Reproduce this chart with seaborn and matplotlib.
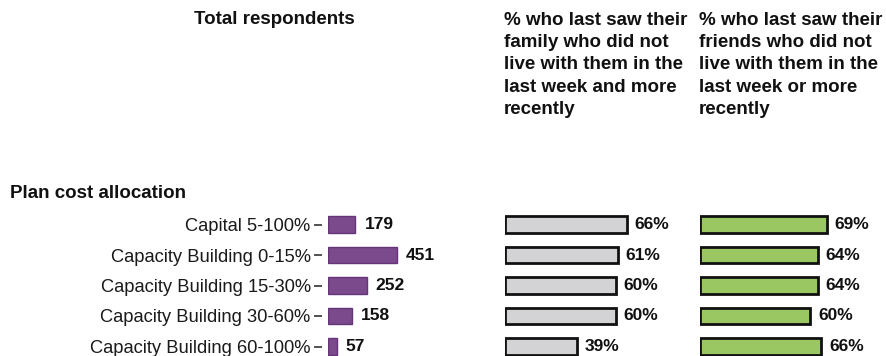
import pandas as pd
import matplotlib
matplotlib.use("Agg")
import matplotlib.pyplot as plt
import seaborn as sns

# Data
categories = [
    "Capital 5-100%",
    "Capacity Building 0-15%",
    "Capacity Building 15-30%",
    "Capacity Building 30-60%",
    "Capacity Building 60-100%",
]
respondents = [179, 451, 252, 158, 57]
family_pct = [66, 61, 60, 60, 39]
friends_pct = [69, 64, 64, 60, 66]

group_title = "Plan cost allocation"
title_total = "Total respondents"
title_family = "% who last saw their\nfamily who did not\nlive with them in the\nlast week and more\nrecently"
title_friends = "% who last saw their\nfriends who did not\nlive with them in the\nlast week or more\nrecently"

df = pd.DataFrame({
    "Category": categories,
    "Respondents": respondents,
    "Family": family_pct,
    "Friends": friends_pct,
})

# Style
sns.set_style("white")
plt.rcParams["font.family"] = ["Liberation Sans", "DejaVu Sans"]
text_color = "#111111"

W, H = 886, 356
fig = plt.figure(figsize=(W / 100, H / 100), dpi=100)


def px_axes(left, width, top=209.25, height=152.5):
    return fig.add_axes([left / W, (H - top - height) / H, width / W, height / H])


ax1 = px_axes(328, 76.5)
ax2 = px_axes(505, 185)
ax3 = px_axes(700, 184)

# Total respondents
sns.barplot(data=df, x="Respondents", y="Category", ax=ax1, orient="h",
            color="#7B4A8C", edgecolor="#66347A", linewidth=1.0,
            saturation=1, width=0.55)
ax1.set_xlim(0, 500)
ax1.bar_label(ax1.containers[0], fmt="{:.0f}", padding=6.5,
              fontsize=12.5, fontweight="bold", color=text_color)

# Family
sns.barplot(data=df, x="Family", y="Category", ax=ax2, orient="h",
            color="#D3D3D5", edgecolor="#111111", linewidth=2.0,
            saturation=1, width=0.55)
ax2.set_xlim(0, 100)
ax2.bar_label(ax2.containers[0], fmt="{:.0f}%", padding=5.5,
              fontsize=12.5, fontweight="bold", color=text_color)

# Friends
sns.barplot(data=df, x="Friends", y="Category", ax=ax3, orient="h",
            color="#9BC763", edgecolor="#111111", linewidth=2.0,
            saturation=1, width=0.55)
ax3.set_xlim(0, 100)
ax3.bar_label(ax3.containers[0], fmt="{:.0f}%", padding=5.5,
              fontsize=12.5, fontweight="bold", color=text_color)

for ax in (ax1, ax2, ax3):
    sns.despine(ax=ax, left=True, bottom=True)
    ax.set_xlabel("")
    ax.set_ylabel("")
    ax.set_xticks([])
    ax.set_ylim(4.5, -0.5)
    ax.patch.set_alpha(0)

# Short dash ticks in front of the category labels
ax1.spines["left"].set_position(("outward", 4))
ax1.tick_params(axis="y", left=True, length=5.5, width=1.2, color="#333333",
                pad=3, labelsize=13.2, labelcolor="#1a1a1a", direction="out")

for ax in (ax2, ax3):
    ax.set_yticks([])

# Titles
fig.text(274 / W, 1 - 20 / H, title_total, ha="center", va="center",
         fontsize=13.5, fontweight="bold", color=text_color)
fig.text(504 / W, 1 - 12 / H, title_family, ha="left", va="top",
         fontsize=13.5, fontweight="bold", color=text_color, linespacing=1.4)
fig.text(699 / W, 1 - 12 / H, title_friends, ha="left", va="top",
         fontsize=13.5, fontweight="bold", color=text_color, linespacing=1.4)
fig.text(10 / W, 1 - 193 / H, group_title, ha="left", va="center",
         fontsize=13.5, fontweight="bold", color=text_color)

fig.savefig("out.png", dpi=100)
